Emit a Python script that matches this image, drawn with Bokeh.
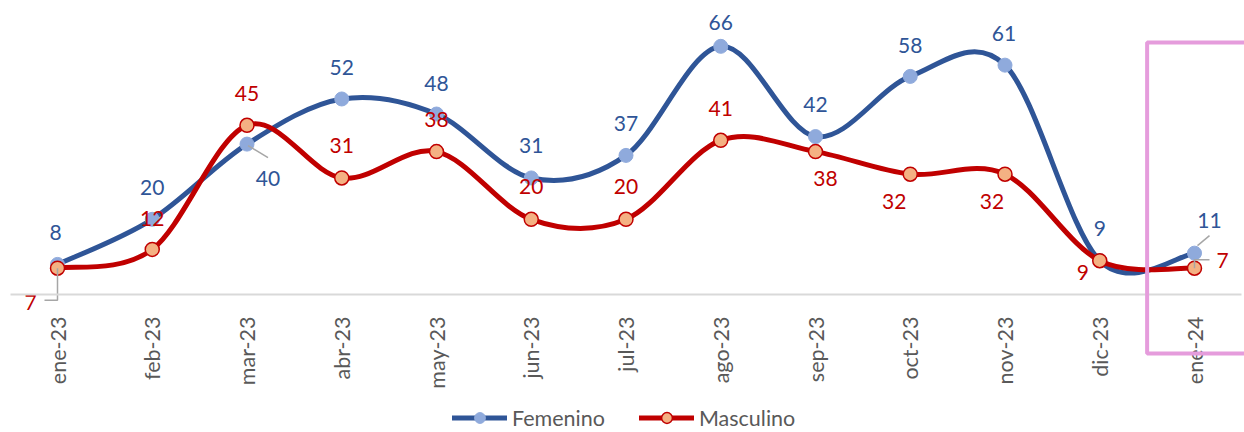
import math
from bokeh.plotting import figure
from bokeh.models import (Range1d, LinearAxis, FixedTicker, ColumnDataSource,
                          Legend, LegendItem, BoxAnnotation)
from bokeh.core.properties import value
from bokeh.embed import file_html
from bokeh.resources import INLINE

# ---------------- data ----------------
months = ["ene-23", "feb-23", "mar-23", "abr-23", "may-23", "jun-23", "jul-23",
          "ago-23", "sep-23", "oct-23", "nov-23", "dic-23", "ene-24"]
femenino = [8, 20, 40, 52, 48, 31, 37, 66, 42, 58, 61, 9, 11]
masculino = [7, 12, 45, 31, 38, 20, 20, 41, 38, 32, 32, 9, 7]

# label offsets in screen pixels (style only)
fem_dx = [-2, 0, 21, 0, 0, 0, 0, 0, 0, 0, -1, 0, 15]
fem_dy = [-32, -32, 34, -31, -31, -32, -32, -24, -32, -31, -32, -32, -33]
mas_dx = [-27, 0, 0, 0, 0, 0, 0, 0, 10, -16, -13, -17, 28]
mas_dy = [34, -31, -32, -32, -32, -33, -33, -32, 27, 27, 27, 12, -8]

# ---------------- layout constants ----------------
W, H = 1244, 432
X0_PX, X_STEP = 57.0, 94.75      # px of first category, px per category
Y0_PX, Y_STEP = 294.0, 3.76      # px of value 0, px per unit
x_start = -X0_PX / X_STEP
x_end = x_start + W / X_STEP
y_end = Y0_PX / Y_STEP
y_start = -(H - Y0_PX) / Y_STEP

BLUE, BLUE_M = "#2F5597", "#8FAADC"
RED, RED_M = "#C00000", "#F4B183"
GREY_TXT = "#595959"
FONT = "Lato"

p = figure(width=W, height=H, x_range=Range1d(x_start, x_end),
           y_range=Range1d(y_start, y_end), output_backend="svg",
           toolbar_location=None, min_border=0, x_axis_type=None,
           y_axis_type=None)
p.outline_line_color = None
p.background_fill_color = "white"

xs = list(range(len(months)))

# x axis drawn at value 0
xaxis = LinearAxis(ticker=FixedTicker(ticks=xs),
                   major_label_overrides={i: m for i, m in enumerate(months)},
                   fixed_location=0, bounds=(-0.5, len(months) - 0.5))
xaxis.axis_line_color = "#D9D9D9"
xaxis.axis_line_width = 2
xaxis.major_tick_line_color = None
xaxis.minor_tick_line_color = None
xaxis.major_label_orientation = math.pi / 2
xaxis.major_label_standoff = 16
xaxis.major_label_text_font = FONT
xaxis.major_label_text_font_size = "21.5px"
xaxis.major_label_text_color = GREY_TXT
p.add_layout(xaxis, "below")


def smooth(xv, yv):
    n = len(xv)
    d = dict(x0=[], y0=[], x1=[], y1=[], cx0=[], cy0=[], cx1=[], cy1=[])
    for i in range(n - 1):
        a = i - 1 if i > 0 else i
        b = i + 2 if i + 2 < n else i + 1
        d["x0"].append(xv[i]); d["y0"].append(yv[i])
        d["x1"].append(xv[i + 1]); d["y1"].append(yv[i + 1])
        d["cx0"].append(xv[i] + (xv[i + 1] - xv[a]) / 6)
        d["cy0"].append(yv[i] + (yv[i + 1] - yv[a]) / 6)
        d["cx1"].append(xv[i + 1] - (xv[b] - xv[i]) / 6)
        d["cy1"].append(yv[i + 1] - (yv[b] - yv[i]) / 6)
    return ColumnDataSource(d)


fem_curve = p.bezier(x0="x0", y0="y0", x1="x1", y1="y1", cx0="cx0", cy0="cy0",
                     cx1="cx1", cy1="cy1", source=smooth(xs, femenino),
                     line_color=BLUE, line_width=5, line_cap="round")
fem_pts = p.scatter(xs, femenino, size=14, fill_color=BLUE_M, line_color=BLUE_M,
                    line_width=1)
mas_curve = p.bezier(x0="x0", y0="y0", x1="x1", y1="y1", cx0="cx0", cy0="cy0",
                     cx1="cx1", cy1="cy1", source=smooth(xs, masculino),
                     line_color=RED, line_width=5, line_cap="round")
mas_pts = p.scatter(xs, masculino, size=14, fill_color=RED_M, line_color=RED,
                    line_width=1.5)

# leader lines (pixel offsets from the data point)
def leader(i, val, pts):
    return ([i + dx / X_STEP for dx, dy in pts], [val - dy / Y_STEP for dx, dy in pts])

lead = [leader(2, femenino[2], [(1, 1.5), (21, 13.5)]),
        leader(12, femenino[12], [(3, -7.5), (15, -17.5)]),
        leader(0, masculino[0], [(0, 0), (0, 32), (-13, 32)]),
        leader(12, masculino[12], [(0, 0), (0, -8.5), (15, -8.5)])]
p.multi_line([l[0] for l in lead], [l[1] for l in lead], line_color="#A6A6A6",
             line_width=1.5)

# data labels
fsrc = ColumnDataSource(dict(x=xs, y=femenino, t=[str(v) for v in femenino],
                             xo=fem_dx, yo=fem_dy))
msrc = ColumnDataSource(dict(x=xs, y=masculino, t=[str(v) for v in masculino],
                             xo=mas_dx, yo=mas_dy))
for src, col in ((fsrc, BLUE), (msrc, RED)):
    p.text(x="x", y="y", text="t", x_offset="xo", y_offset="yo", source=src,
           text_color=col, text_font=value(FONT), text_font_size="21px",
           text_align="center", text_baseline="middle")

# highlight box around the last category
n = len(months)
p.add_layout(BoxAnnotation(left=n - 1.5, right=n - 0.4, top=67.0, bottom=-15.7,
                           fill_alpha=0, line_color="#E59CDC", line_alpha=1.0,
                           line_width=4))

legend = Legend(items=[LegendItem(label="Femenino", renderers=[fem_curve, fem_pts]),
                       LegendItem(label="Masculino", renderers=[mas_curve, mas_pts])],
                location=(452, 1), orientation="horizontal", glyph_width=55,
                glyph_height=27, label_standoff=5, spacing=34, padding=0, margin=0,
                border_line_color=None, background_fill_alpha=0,
                label_text_font=FONT, label_text_font_size="21.5px",
                label_text_color=GREY_TXT)
p.add_layout(legend, "center")

open("out.html", "w").write(file_html(p, INLINE))
